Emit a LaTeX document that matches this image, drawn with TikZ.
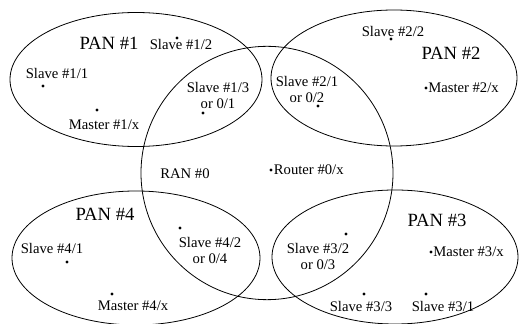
\documentclass[tikz,border=0pt]{standalone}
\usepackage{fontspec}
\setmainfont{Liberation Serif}
\usetikzlibrary{positioning, shapes.geometric}
\tikzset{
  net/.style={draw, ellipse, line width=0.6pt, inner sep=0pt},
  dev/.style={circle, fill, inner sep=0pt, minimum size=2.6pt},
  lbl/.style={font=\fontsize{11}{12}\selectfont, align=center, inner sep=0pt},
  netname/.style={font=\fontsize{14}{16}\selectfont, inner sep=0pt}
}
\begin{document}
\begin{tikzpicture}[x=0.75pt, y=-0.75pt, node distance=1pt]
\useasboundingbox (0,0) rectangle (519,324);
% the five networks
\node[net, minimum width=189pt, minimum height=100.5pt] (pan1) at (136,79.5) {};
\node[net, minimum width=184.5pt, minimum height=102pt] (pan2) at (394,78) {};
\node[net, minimum width=189pt, minimum height=190pt] (ran0) at (267,173) {};
\node[net, minimum width=186pt, minimum height=100.5pt] (pan4) at (136,258) {};
\node[net, minimum width=184.5pt, minimum height=100.5pt] (pan3) at (395,257) {};
% PAN #1
\node[netname] (pan1name) at (109,43) {PAN \#1};
\node[dev] (s11) at (43,86) {};
\node[lbl] (s11lbl) at (57,73) {Slave \#1/1};
\node[dev] (s12) at (177,38) {};
\node[lbl] (s12lbl) at (181,44) {Slave \#1/2};
\node[dev] (m1) at (97,110) {};
\node[lbl] (m1lbl) at (104,125) {Master \#1/x};
\node[dev] (s13) at (203,113) {};
\node[lbl] (s13lbl) at (218,95) {Slave \#1/3\\ or 0/1};
% PAN #2
\node[netname] (pan2name) at (451,53) {PAN \#2};
\node[dev] (s22) at (391,39) {};
\node[lbl] (s22lbl) at (393,31) {Slave \#2/2};
\node[dev] (m2) at (426,88) {};
\node[lbl, right=0pt of m2] (m2lbl) {Master \#2/x};
\node[dev] (s21) at (318,106) {};
\node[lbl] (s21lbl) at (307,89) {Slave \#2/1\\ or 0/2};
% RAN #0
\node[lbl] (ran0name) at (185,174) {RAN \#0};
\node[dev] (r0) at (271,170) {};
\node[lbl, right=0.5pt of r0] (r0lbl) {Router \#0/x};
% PAN #4
\node[netname] (pan4name) at (105,214) {PAN \#4};
\node[dev] (s41) at (67,262) {};
\node[lbl] (s41lbl) at (52,248) {Slave \#4/1};
\node[dev] (m4) at (112,294) {};
\node[lbl] (m4lbl) at (133,306) {Master \#4/x};
\node[dev] (s42) at (180,228) {};
\node[lbl] (s42lbl) at (210,250) {Slave \#4/2\\ or 0/4};
% PAN #3
\node[netname] (pan3name) at (437,220) {PAN \#3};
\node[dev] (s32) at (346,234) {};
\node[lbl] (s32lbl) at (318,256) {Slave \#3/2\\ or 0/3};
\node[dev] (m3) at (431,252) {};
\node[lbl, right=0pt of m3] (m3lbl) {Master \#3/x};
\node[dev] (s33) at (364,294) {};
\node[lbl] (s33lbl) at (361,306) {Slave \#3/3};
\node[dev] (s31) at (426,294) {};
\node[lbl] (s31lbl) at (443,306) {Slave \#3/1};
\end{tikzpicture}
\end{document}
